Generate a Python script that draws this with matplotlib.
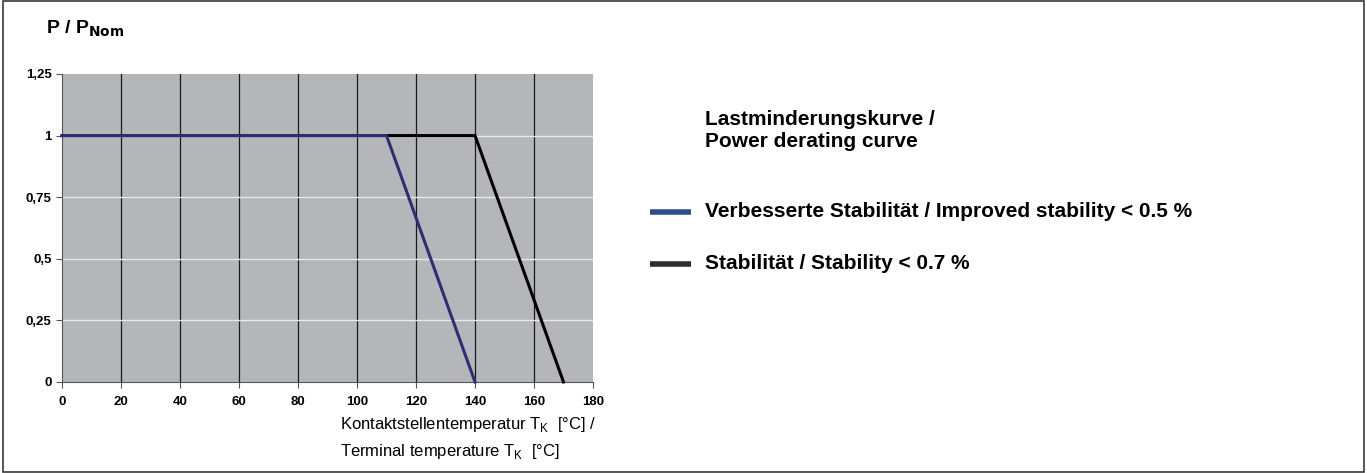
import matplotlib

matplotlib.use("Agg")
import matplotlib.pyplot as plt
from matplotlib.lines import Line2D
from matplotlib.patches import Rectangle

plt.rcParams["font.family"] = ["Liberation Sans", "DejaVu Sans"]

# derating curves (terminal temperature in degC -> P / P_nom)
T_IMPROVED = [0, 110, 140]
P_IMPROVED = [1, 1, 0]
T_STANDARD = [0, 140, 170]
P_STANDARD = [1, 1, 0]

X_TICKS = [0, 20, 40, 60, 80, 100, 120, 140, 160, 180]
Y_TICKS = [0, 0.25, 0.5, 0.75, 1, 1.25]
Y_LABELS = ["0", "0,25", "0,5", "0,75", "1", "1,25"]

LEGEND = [("Verbesserte Stabilität / Improved stability < 0.5 %", "#2b4e8a"),
          ("Stabilität / Stability < 0.7 %", "#2d2d2d")]

fig = plt.figure(figsize=(13.67, 4.73), dpi=100)
fig.patches.append(Rectangle((0.002, 0.003), 0.996, 0.994, transform=fig.transFigure,
                             fill=False, edgecolor="#3a3a3a", lw=1.2))

ax = fig.add_axes([0.0454, 0.1924, 0.3884, 0.6512])
ax.set_facecolor("#b5b6ba")
ax.set_xlim(0, 180)
ax.set_ylim(0, 1.25)
ax.set_xticks(X_TICKS)
ax.set_yticks(Y_TICKS)
ax.set_yticklabels(Y_LABELS)
for t in X_TICKS[1:-1]:
    ax.axvline(t, color="#1a1a1a", lw=0.9, zorder=1)
for t in Y_TICKS[1:-1]:
    ax.axhline(t, color="#e8e8e8", lw=1.0, zorder=1)
for s in ["top", "right"]:
    ax.spines[s].set_visible(False)
for s in ["left", "bottom"]:
    ax.spines[s].set_color("#555555")
    ax.spines[s].set_linewidth(0.8)
ax.tick_params(direction="out", length=4, width=0.8, color="#555555", labelsize=9.5)
ax.tick_params(axis="x", pad=6)
for lab in ax.get_xticklabels() + ax.get_yticklabels():
    lab.set_fontweight("bold")

ax.plot(T_STANDARD, P_STANDARD, color="#000000", lw=2.2, zorder=3, clip_on=False)
ax.plot(T_IMPROVED, P_IMPROVED, color="#2e2e78", lw=2.2, zorder=4, clip_on=False)

fig.text(0.034, 0.94, r"P / P$_{\mathbf{Nom}}$", fontsize=14, fontweight="bold",
         va="center", ha="left")

fig.text(0.249, 0.102, "Kontaktstellentemperatur T$_{\\mathregular{K}}$  [°C] /",
         fontsize=12, va="center", ha="left")
fig.text(0.249, 0.046, "Terminal temperature T$_{\\mathregular{K}}$  [°C]",
         fontsize=12, va="center", ha="left")

fig.text(0.5155, 0.724, "Lastminderungskurve /\nPower derating curve", fontsize=15,
         fontweight="bold", va="center", ha="left", linespacing=1.2)
for i, (label, color) in enumerate(LEGEND):
    y = 0.552 - i * 0.11
    fig.add_artist(Line2D([0.4755, 0.5055], [y, y], transform=fig.transFigure,
                          color=color, lw=4, solid_capstyle="butt"))
    fig.text(0.5155, y, label, fontsize=15, fontweight="bold", va="center", ha="left")

fig.savefig("out.png", dpi=100)
